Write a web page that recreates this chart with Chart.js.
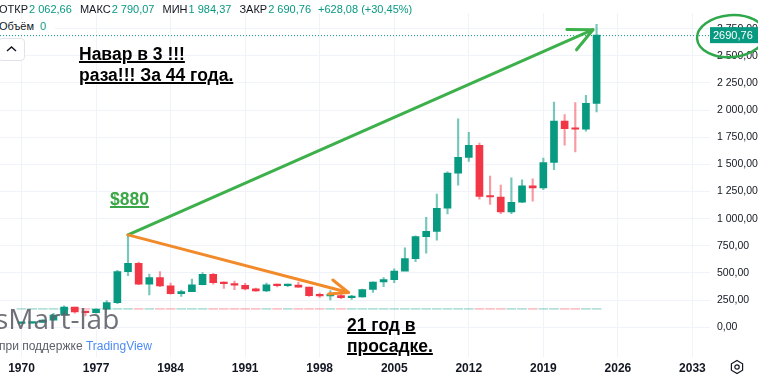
<!DOCTYPE html>
<html>
<head>
<meta charset="utf-8">
<script src="https://cdn.jsdelivr.net/npm/chart.js@4.4.1/dist/chart.umd.min.js"></script>
<style>
  html, body { margin: 0; padding: 0; background: #fff; }
  #wrap { position: relative; width: 758px; height: 380px; overflow: hidden; font-family: "Liberation Sans", Arial, sans-serif; }
  #c { position: absolute; left: 0; top: 0; }
  .t { position: absolute; white-space: nowrap; }
  .hdr { font-size: 11px; color: #131722; line-height: 14px; }
  .hdr b { font-weight: normal; color: #089981; margin: 0 5px 0 1px; }
  .note { font-weight: bold; font-size: 17.5px; line-height: 21px; color: #000; text-decoration: underline; text-decoration-thickness: 2px; }
  .wm { font-family: "Open Sans", sans-serif; font-size: 28px; line-height: 30px; color: rgba(95,97,105,0.9); }
  .tv { font-size: 12px; line-height: 14px; color: #5d606b; }
  .tv span { color: #4c8bf5; }
  .btn { left: -2px; top: 38px; width: 25px; height: 21px; border: 1px solid #e0e3eb; border-radius: 4px; background: #fff; }
</style>
</head>
<body>
<div id="wrap">
  <canvas id="c" width="758" height="380"></canvas>

  <div class="t hdr" style="left:-1px; top:2px;">ОТКР<b>2 062,66</b> МАКС<b>2 790,07</b> МИН<b>1 984,37</b> ЗАКР<b>2 690,76</b><b style="margin-left:2px">+628,08 (+30,45%)</b></div>
  <div class="t hdr" style="left:-1px; top:19px; background:#fff; padding-right:4px;">Объём <b style="margin-left:3px">0</b></div>
  <div class="t btn"><svg width="25" height="21"><path d="M8 12 L12.5 8 L17 12" fill="none" stroke="#131722" stroke-width="1.5"/></svg></div>

  <div class="t note" style="left:79px; top:44px;">Навар в 3 !!!</div>
  <div class="t note" style="left:79px; top:65px;">раза!!! За 44 года.</div>
  <div class="t note" style="left:110px; top:189px; color:#3aa647;">$880</div>
  <div class="t note" style="left:347px; top:315px;">21 год в</div>
  <div class="t note" style="left:347px; top:336px;">просадке.</div>

  <div class="t wm" style="left:-5px; top:303px;">sMart-lab</div>
  <div class="t tv" style="left:-1px; top:339px;">при поддержке <span>TradingView</span></div>

  <svg class="t" style="left:729px; top:359px;" width="16" height="16">
    <path d="M8 1.5 L13.6 4.75 L13.6 11.25 L8 14.5 L2.4 11.25 L2.4 4.75 Z" fill="none" stroke="#131722" stroke-width="1.2"/>
    <circle cx="8" cy="8" r="2.2" fill="none" stroke="#131722" stroke-width="1.2"/>
  </svg>
</div>

<script>
// yearly XAUUSD candles
const years  = [1970,1971,1972,1973,1974,1975,1976,1977,1978,1979,1980,1981,1982,1983,1984,1985,1986,1987,1988,1989,
                1990,1991,1992,1993,1994,1995,1996,1997,1998,1999,2000,2001,2002,2003,2004,2005,2006,2007,2008,2009,
                2010,2011,2012,2013,2014,2015,2016,2017,2018,2019,2020,2021,2022,2023,2024];
const opens  = [35,37,43,65,112,186,140,134,165,226,512,589,397,456,381,308,327,391,487,410,
                401,386,353,333,391,383,387,369,290,288,290,272,279,347,416,438,517,632,834,882,
                1096,1420,1565,1675,1204,1199,1061,1151,1303,1282,1517,1898,1829,1824,2062.66];
const highs  = [39,44,70,127,197,186,141,168,244,524,850,600,490,512,406,341,443,502,495,418,
                424,403,360,407,397,397,415,370,313,338,317,293,350,417,456,538,730,842,1011,1227,
                1432,1920,1795,1696,1392,1308,1375,1358,1366,1557,2075,1959,2070,2135,2790.07];
const lows   = [35,37,43,64,112,128,103,129,165,216,474,391,296,374,303,284,326,390,395,356,
                345,344,330,326,370,372,367,283,273,252,263,255,277,320,373,411,520,603,681,801,
                1044,1308,1527,1180,1131,1046,1046,1146,1160,1266,1451,1677,1615,1805,1984.37];
const closes = [37,43,65,112,186,140,134,165,226,512,589,397,456,381,308,327,391,487,410,401,
                386,353,333,391,383,387,369,290,288,290,272,279,347,416,438,517,632,834,882,1096,
                1420,1565,1675,1204,1199,1061,1151,1303,1282,1517,1898,1829,1824,2063,2690.76];
const volumes = years.map(() => 0);   // legend shows Объём 0

const xTicks = [1970,1977,1984,1991,1998,2005,2012,2019,2026,2033];
const yTicks = [0,250,500,750,1000,1250,1500,1750,2000,2250,2500,2750];
const lastPrice = 2690.76;

const UP = '#089981', DOWN = '#f23645';
const up = years.map((y, i) => closes[i] >= opens[i]);
const FONT = '"Liberation Sans", Arial, sans-serif';

function fmt(v) {
  const [i, d] = v.toFixed(2).split('.');
  return i.replace(/\B(?=(\d{3})+(?!\d))/g, ' ') + ',' + d;
}

function arrow(ctx, x1, y1, x2, y2, color, len, a1, a2) {
  const ang = Math.atan2(y2 - y1, x2 - x1) + Math.PI;
  ctx.save();
  ctx.strokeStyle = color; ctx.lineWidth = 3; ctx.lineCap = 'round'; ctx.lineJoin = 'round';
  ctx.beginPath(); ctx.moveTo(x1, y1); ctx.lineTo(x2, y2); ctx.stroke();
  ctx.beginPath();
  ctx.moveTo(x2 + len * Math.cos(ang + a1), y2 + len * Math.sin(ang + a1));
  ctx.lineTo(x2, y2);
  ctx.lineTo(x2 + len * Math.cos(ang - a2), y2 + len * Math.sin(ang - a2));
  ctx.stroke();
  ctx.restore();
}

const overlay = {
  id: 'overlay',
  afterDatasetsDraw(chart) {
    const { ctx, chartArea, scales: { x, y } } = chart;
    const py = y.getPixelForValue(lastPrice);
    ctx.save();
    ctx.strokeStyle = UP; ctx.lineWidth = 1; ctx.setLineDash([1, 2]);
    ctx.beginPath(); ctx.moveTo(0, py + 0.5); ctx.lineTo(chartArea.right, py + 0.5); ctx.stroke();
    ctx.setLineDash([]);
    ctx.fillStyle = UP;
    ctx.fillRect(chartArea.right, py - 8, 48, 16);
    ctx.fillStyle = '#fff'; ctx.font = '11px ' + FONT; ctx.textBaseline = 'middle';
    ctx.fillText('2690,76', chartArea.right + 3, py + 1);
    ctx.restore();

    // hand-drawn arrows from the 1980 peak
    const x0 = x.getPixelForValue(1980), y0 = y.getPixelForValue(850);
    arrow(ctx, x0, y0, x.getPixelForValue(2023.66), y.getPixelForValue(2741), '#3cb04a', 26, 0.42, 0.47);
    arrow(ctx, x0, y0, x.getPixelForValue(2000.7), y.getPixelForValue(319), '#f28a2a', 20, 0.42, 0.33);

    // ellipse round the price label
    ctx.save();
    ctx.strokeStyle = '#2ea84a'; ctx.lineWidth = 2.5;
    ctx.beginPath();
    ctx.ellipse(chartArea.right + 21, py + 1, 34, 21, -0.08, 0, Math.PI * 2);
    ctx.stroke();
    ctx.restore();
  }
};

new Chart(document.getElementById('c'), {
  type: 'bar',
  data: {
    datasets: [
      { label: 'body', data: years.map((yr, i) => ({ x: yr, y: [opens[i], closes[i]] })),
        backgroundColor: up.map(u => u ? UP : DOWN), barThickness: 7, minBarLength: 1.5, grouped: false },
      { label: 'wick', data: years.map((yr, i) => ({ x: yr, y: [lows[i], highs[i]] })),
        backgroundColor: up.map(u => u ? 'rgba(8,153,129,0.55)' : 'rgba(242,54,69,0.5)'), barThickness: 1.5, grouped: false },
      { label: 'vol', yAxisID: 'yVol', data: years.map((yr, i) => ({ x: yr, y: volumes[i] })),
        backgroundColor: up.map(u => u ? 'rgba(8,153,129,0.3)' : 'rgba(242,54,69,0.3)'), barThickness: 9, minBarLength: 1, grouped: false }
    ]
  },
  options: {
    responsive: false,
    animation: false,
    layout: { padding: 0 },
    plugins: { legend: { display: false }, tooltip: { enabled: false } },
    scales: {
      x: {
        type: 'linear', min: 1967.98, max: 2034.65, offset: false,
        grid: { color: '#f0f3fa', drawTicks: false, offset: false }, border: { display: false },
        ticks: { autoSkip: false, maxRotation: 0, padding: 4, color: '#131722',
                 font: { family: FONT, size: 12, weight: 'bold' }, callback: v => String(v) },
        afterBuildTicks: a => { a.ticks = xTicks.map(v => ({ value: v })); },
        afterFit: a => { a.height = 23; }
      },
      y: {
        position: 'right', min: -275, max: 2892,
        grid: { color: '#f0f3fa', drawTicks: false }, border: { display: false },
        ticks: { padding: 7, color: '#131722', font: { family: FONT, size: 10.5 }, callback: v => fmt(v) },
        afterBuildTicks: a => { a.ticks = yTicks.map(v => ({ value: v })); },
        afterFit: a => { a.width = 48; }
      },
      yVol: { display: false, min: -50, max: 307 }
    }
  },
  plugins: [overlay]
});
</script>
</body>
</html>
